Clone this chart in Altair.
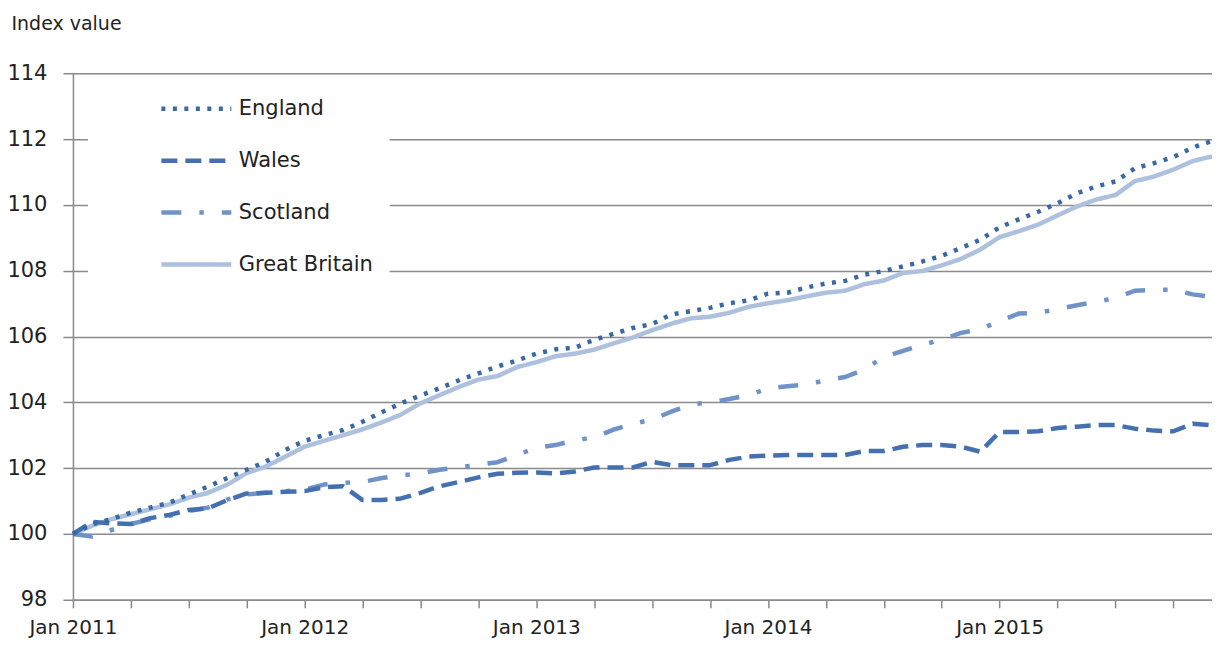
import json
import altair as alt
import pandas as pd

series_names = ["England", "Wales", "Scotland", "Great Britain"]
series_colors = ["#3a68a6", "#4470b0", "#6f93c9", "#adc0de"]
series_dashes = [[4, 7.5], [16, 8], [20, 18, 4.5, 18], [1, 0]]

x_tick_labels = ["Jan 2011", "Jan 2012", "Jan 2013", "Jan 2014", "Jan 2015"]
y_ticks = [98, 100, 102, 104, 106, 108, 110, 112, 114]

england = [
    100.0, 100.3, 100.45, 100.65, 100.8, 100.95, 101.2, 101.44, 101.7, 101.95, 102.2, 102.55,
    102.83, 103.0, 103.16, 103.41, 103.7, 103.97, 104.21, 104.43, 104.67, 104.88, 105.09, 105.27,
    105.48, 105.61, 105.66, 105.9, 106.08, 106.26, 106.38, 106.67, 106.77, 106.87, 107.01, 107.1,
    107.3, 107.33, 107.49, 107.61, 107.69, 107.88, 107.99, 108.13, 108.28, 108.45, 108.69, 108.94,
    109.32, 109.56, 109.79, 110.05, 110.35, 110.56, 110.71, 111.11, 111.27, 111.45, 111.74, 111.94,
]
wales = [
    100.0, 100.37, 100.32, 100.3, 100.48, 100.58, 100.73, 100.78, 101.03, 101.23, 101.25, 101.28,
    101.3, 101.42, 101.45, 101.03, 101.03, 101.08, 101.25, 101.45, 101.58, 101.72, 101.83, 101.86,
    101.87, 101.84, 101.9, 102.02, 102.02, 102.02, 102.19, 102.09, 102.09, 102.09, 102.25, 102.35,
    102.38, 102.4, 102.4, 102.4, 102.4, 102.52, 102.52, 102.65, 102.7, 102.7, 102.65, 102.5,
    103.1, 103.1, 103.12, 103.22, 103.26, 103.31, 103.31, 103.2, 103.14, 103.12, 103.35, 103.3,
]
scotland = [
    100.0, 99.92, 100.12, 100.3, 100.45, 100.55, 100.7, 100.8, 101.05, 101.2, 101.25, 101.3,
    101.35, 101.5, 101.55, 101.58, 101.7, 101.78, 101.84, 101.95, 102.03, 102.1, 102.18, 102.4,
    102.62, 102.7, 102.85, 102.93, 103.17, 103.35, 103.47, 103.72, 103.93, 104.0, 104.1, 104.22,
    104.42, 104.49, 104.54, 104.67, 104.77, 105.0, 105.38, 105.56, 105.75, 105.9, 106.11, 106.22,
    106.47, 106.7, 106.72, 106.83, 106.95, 107.05, 107.17, 107.39, 107.42, 107.42, 107.28, 107.2,
]
great_britain = [
    100.0, 100.25, 100.45, 100.6, 100.75, 100.9, 101.1, 101.25, 101.5, 101.85, 102.05, 102.35,
    102.65, 102.83, 103.0, 103.18, 103.39, 103.63, 103.97, 104.22, 104.47, 104.69, 104.8, 105.07,
    105.22, 105.4, 105.48, 105.6, 105.79, 105.97, 106.19, 106.39, 106.55, 106.6, 106.72, 106.9,
    107.01, 107.1, 107.22, 107.33, 107.39, 107.59, 107.7, 107.93, 107.99, 108.16, 108.36, 108.64,
    109.02, 109.2, 109.4, 109.68, 109.95, 110.16, 110.3, 110.72, 110.86, 111.07, 111.33, 111.47,
]

rows = []
# drawing order: Great Britain first (bottom), England last (top)
for name, vals in [("Great Britain", great_britain), ("Scotland", scotland),
                   ("Wales", wales), ("England", england)]:
    for i, v in enumerate(vals):
        rows.append({"month": i, "series": name, "value": v})
df = pd.DataFrame(rows)

n_months = len(england)
label_expr = "datum.value % 12 == 0 ? {}[datum.value / 12] : ''".format(json.dumps(x_tick_labels))

FONT = "DejaVu Sans"
GRID = "#8a8a8a"
TEXT = "#222222"


def make_legend():
    return alt.Legend(title=None, orient="none", legendX=15, legendY=7,
                      fillColor="white", padding=16,
                      symbolType="M-3.5,0H3.5", symbolSize=400,
                      symbolStrokeWidth=4.5, symbolOffset=80,
                      labelOffset=30, rowPadding=29,
                      labelFontSize=21, labelFont=FONT, labelColor=TEXT)


chart = alt.Chart(df).mark_line(strokeWidth=4.5, strokeCap="butt", strokeJoin="round").encode(
    x=alt.X("month:Q",
            scale=alt.Scale(domain=[0, n_months - 1], nice=False, zero=False),
            axis=alt.Axis(values=list(range(0, n_months, 3)), labelExpr=label_expr,
                          title=None, grid=False, tickSize=8, labelPadding=10,
                          labelFontSize=20, labelFont=FONT, labelColor=TEXT,
                          domainColor=GRID, domainWidth=1.5, tickColor=GRID, tickWidth=1.5,
                          labelOverlap=False, labelFlush=False)),
    y=alt.Y("value:Q",
            scale=alt.Scale(domain=[98, 114], nice=False, zero=False),
            axis=alt.Axis(values=y_ticks, format="d", title="Index value",
                          titleAngle=0, titleAlign="left", titleBaseline="alphabetic",
                          titleX=-62, titleY=-44, titleFontSize=19, titleFont=FONT,
                          titleFontWeight="normal", titleColor=TEXT,
                          grid=True, gridColor=GRID, gridWidth=1.5,
                          tickSize=10, tickColor=GRID, tickWidth=1.5, labelPadding=16,
                          labelFontSize=21, labelFont=FONT, labelColor=TEXT,
                          domainColor=GRID, domainWidth=1.5)),
    color=alt.Color("series:N",
                    scale=alt.Scale(domain=series_names, range=series_colors),
                    legend=make_legend()),
    strokeDash=alt.StrokeDash("series:N",
                              scale=alt.Scale(domain=series_names, range=series_dashes),
                              legend=make_legend()),
).properties(
    width=1140,
    height=527,
    autosize=alt.AutoSizeParams(type="none"),
    padding={"left": 65, "top": 65, "right": 0, "bottom": 43},
).configure_view(stroke=None).configure(background="white")

chart.save("out.html", embed_options={"renderer": "svg", "actions": False})
